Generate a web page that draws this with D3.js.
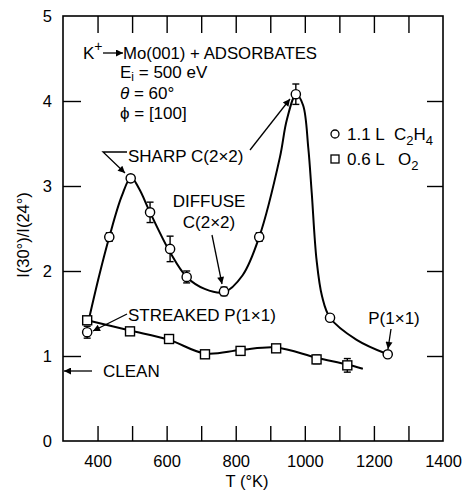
<!DOCTYPE html>
<html><head><meta charset="utf-8">
<script src="https://cdn.jsdelivr.net/npm/d3@7"></script>
<style>body{margin:0;background:#fff}svg{display:block}text{font-family:"Liberation Sans",Arial,sans-serif;fill:#000}</style>
</head><body><svg id="c" width="467" height="500"></svg>
<script>
// ---- data ----
const c2h4T = [370, 434, 496, 552, 610, 658, 766, 868, 974, 1073, 1240];
const c2h4V = [1.28, 2.40, 3.09, 2.69, 2.26, 1.93, 1.76, 2.40, 4.08, 1.45, 1.02];
const c2h4Err = [0.07, 0.05, 0, 0.12, 0.15, 0.07, 0.05, 0.05, 0.12, 0, 0];
const o2T = [370, 494, 607, 711, 814, 917, 1034, 1123];
const o2V = [1.42, 1.29, 1.20, 1.02, 1.06, 1.09, 0.96, 0.89];
const o2Err = [0, 0, 0, 0, 0, 0, 0.05, 0.08];
// smooth guide curves drawn through the data
const c2h4FitT = [376, 405, 434, 470, 497, 520, 552, 610, 658, 710, 766, 820, 868, 928, 948, 975, 995, 1010, 1020, 1034, 1050, 1073, 1150, 1240];
const c2h4FitV = [1.45, 1.95, 2.40, 2.88, 3.10, 2.97, 2.69, 2.22, 1.93, 1.79, 1.75, 1.95, 2.40, 3.34, 3.78, 4.08, 3.95, 3.45, 2.92, 2.13, 1.70, 1.45, 1.19, 1.02];
const o2FitT = [370, 494, 607, 711, 814, 917, 1034, 1123, 1168];
const o2FitV = [1.42, 1.30, 1.19, 1.03, 1.07, 1.10, 0.98, 0.90, 0.85];
const xLabelTicks = [400, 600, 800, 1000, 1200, 1400];
const xMinorTicks = [400, 500, 600, 700, 800, 900, 1000, 1100, 1200, 1300];
const yLabelTicks = [0, 1, 2, 3, 4, 5];
const yMinorTicks = [1, 2, 3, 4];

const svg = d3.select('#c');
const L = 63, R = 443, T = 16, B = 441;
const x = d3.scaleLinear([300, 1400], [L, R]);
const y = d3.scaleLinear([0, 5], [B, T]);

// arrow marker
svg.append('defs').append('marker').attr('id', 'ah')
  .attr('viewBox', '0 0 10 10').attr('refX', 10).attr('refY', 5)
  .attr('markerWidth', 9).attr('markerHeight', 7).attr('markerUnits', 'userSpaceOnUse')
  .attr('orient', 'auto').append('path').attr('d', 'M0,0L10,5L0,10Z').attr('fill', '#000');

// frame
svg.append('rect').attr('x', L).attr('y', T).attr('width', R - L).attr('height', B - T)
  .attr('fill', 'none').attr('stroke', '#000').attr('stroke-width', 1.6);

function styleAxis(g) { g.select('.domain').remove(); g.selectAll('line').attr('stroke', '#000').attr('stroke-width', 1.4); g.selectAll('text').style('font-size', '16.5px').attr('fill', '#000'); }

svg.append('g').attr('transform', `translate(0,${B})`).call(d3.axisBottom(x).tickValues(xMinorTicks).tickSizeInner(-15).tickSizeOuter(0).tickFormat('')).call(styleAxis);
svg.append('g').attr('transform', `translate(0,${T})`).call(d3.axisTop(x).tickValues(xMinorTicks).tickSizeInner(-17).tickSizeOuter(0).tickFormat('')).call(styleAxis);
svg.append('g').attr('transform', `translate(0,${B})`).call(d3.axisBottom(x).tickValues(xLabelTicks).tickSize(0).tickPadding(14).tickFormat(d3.format('d'))).call(styleAxis);
svg.append('g').attr('transform', `translate(${L},0)`).call(d3.axisLeft(y).tickValues(yMinorTicks).tickSizeInner(-18).tickSizeOuter(0).tickFormat('')).call(styleAxis);
svg.append('g').attr('transform', `translate(${R},0)`).call(d3.axisRight(y).tickValues(yMinorTicks).tickSizeInner(-16).tickSizeOuter(0).tickFormat('')).call(styleAxis);
svg.append('g').attr('transform', `translate(${L},0)`).call(d3.axisLeft(y).tickValues(yLabelTicks).tickSize(0).tickPadding(11).tickFormat(d3.format('d'))).call(styleAxis);

// axis titles
svg.append('text').attr('transform', 'translate(29,235) rotate(-90)').attr('text-anchor', 'middle').style('font-size', '16.5px').text('I(30°)/I(24°)');
svg.append('text').attr('x', 247).attr('y', 487).attr('text-anchor', 'middle').style('font-size', '16.5px').text('T (°K)');

// curves
const line = d3.line().x(d => x(d[0])).y(d => y(d[1])).curve(d3.curveCatmullRom.alpha(0.5));
svg.append('path').attr('d', line(d3.zip(c2h4FitT, c2h4FitV))).attr('fill', 'none').attr('stroke', '#000').attr('stroke-width', 2);
svg.append('path').attr('d', line(d3.zip(o2FitT, o2FitV))).attr('fill', 'none').attr('stroke', '#000').attr('stroke-width', 2);

// error bars
function errBars(ts, vs, es) {
  const g = svg.append('g').attr('stroke', '#000').attr('stroke-width', 1.4);
  ts.forEach((t, i) => {
    if (!es[i]) return;
    const cx = x(t), y1 = y(vs[i] + es[i]), y2 = y(vs[i] - es[i]);
    g.append('line').attr('x1', cx).attr('x2', cx).attr('y1', y1).attr('y2', y2);
    g.append('line').attr('x1', cx - 3.5).attr('x2', cx + 3.5).attr('y1', y1).attr('y2', y1);
    g.append('line').attr('x1', cx - 3.5).attr('x2', cx + 3.5).attr('y1', y2).attr('y2', y2);
  });
}
errBars(c2h4T, c2h4V, c2h4Err);
errBars(o2T, o2V, o2Err);

// markers
svg.append('g').selectAll('rect').data(d3.zip(o2T, o2V)).join('rect')
  .attr('x', d => x(d[0]) - 4.5).attr('y', d => y(d[1]) - 4.5).attr('width', 9).attr('height', 9)
  .attr('fill', '#fff').attr('stroke', '#000').attr('stroke-width', 1.4);
svg.append('g').selectAll('circle').data(d3.zip(c2h4T, c2h4V)).join('circle')
  .attr('cx', d => x(d[0])).attr('cy', d => y(d[1])).attr('r', 4.6)
  .attr('fill', '#fff').attr('stroke', '#000').attr('stroke-width', 1.4);

// annotations
const ann = svg.append('g');
function txt(xp, yp, s, size) { return ann.append('text').attr('x', xp).attr('y', yp).style('font-size', (size || 17) + 'px').text(s); }
function arrow(pts) {
  ann.append('path').attr('d', d3.line()(pts)).attr('fill', 'none').attr('stroke', '#000').attr('stroke-width', 1.3)
    .attr('marker-end', 'url(#ah)');
}
// header
const k = txt(83, 59, 'K');
k.append('tspan').attr('dy', -8).style('font-size', '14px').text('+');
arrow([[103, 53], [123, 53]]);
txt(123, 59, 'Mo(001) + ADSORBATES').attr('textLength', 194).attr('lengthAdjust', 'spacingAndGlyphs');
const ei = txt(120, 78, 'E');
ei.append('tspan').attr('dy', 3).style('font-size', '12px').text('i');
ei.append('tspan').attr('dy', -3).text(' = 500 eV');
const th = txt(120, 99, '');
th.append('tspan').style('font-style', 'italic').text('θ');
th.append('tspan').text(' = 60°');
txt(120, 119, 'ϕ = [100]');
// legend
ann.append('circle').attr('cx', 335).attr('cy', 134).attr('r', 4).attr('fill', '#fff').attr('stroke', '#000').attr('stroke-width', 1.3);
txt(347, 140, '1.1 L');
const l1 = txt(394, 140, 'C');
l1.append('tspan').attr('dy', 5).style('font-size', '13px').text('2');
l1.append('tspan').attr('dy', -5).text('H');
l1.append('tspan').attr('dy', 5).style('font-size', '13px').text('4');
ann.append('rect').attr('x', 331).attr('y', 155).attr('width', 8).attr('height', 8).attr('fill', '#fff').attr('stroke', '#000').attr('stroke-width', 1.3);
txt(347, 165, '0.6 L');
const l2 = txt(398, 165, 'O');
l2.append('tspan').attr('dy', 5).style('font-size', '13px').text('2');
// SHARP
txt(128, 162, 'SHARP C(2×2)');
arrow([[127, 152], [103, 152], [125, 173]]);
arrow([[250, 150], [290, 99]]);
// DIFFUSE
txt(209, 207, 'DIFFUSE').attr('text-anchor', 'middle');
txt(209, 228, 'C(2×2)').attr('text-anchor', 'middle');
arrow([[212, 235], [222, 284]]);
// STREAKED
txt(128, 321, 'STREAKED P(1×1)');
arrow([[127, 314], [93, 331]]);
// P(1x1)
txt(394, 324, 'P(1×1)').attr('text-anchor', 'middle');
arrow([[391, 329], [388, 349]]);
// CLEAN
txt(103, 377, 'CLEAN');
arrow([[92, 371], [64, 371]]);
</script></body></html>
